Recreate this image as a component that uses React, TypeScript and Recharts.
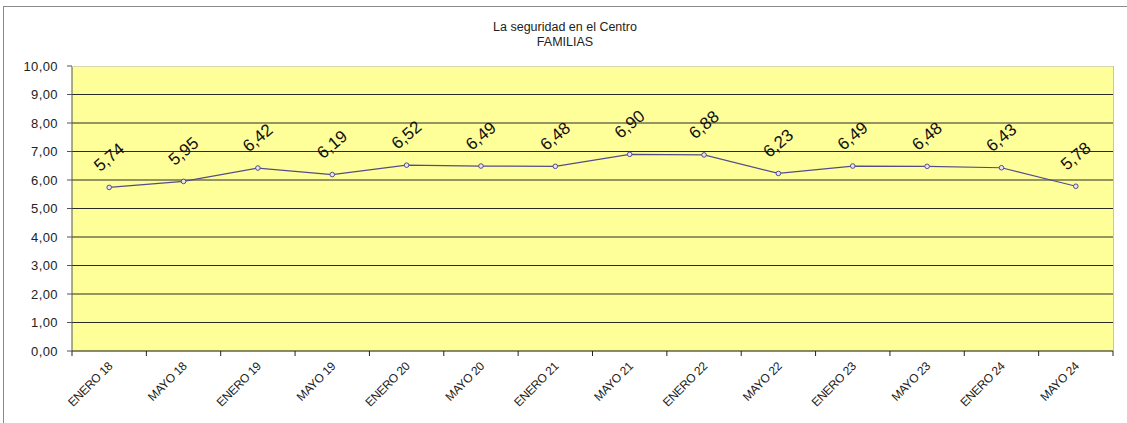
import React from 'react'
import { LineChart, Line, XAxis, YAxis, CartesianGrid, LabelList } from 'recharts'

const periods = [
  'ENERO 18', 'MAYO 18', 'ENERO 19', 'MAYO 19', 'ENERO 20', 'MAYO 20', 'ENERO 21',
  'MAYO 21', 'ENERO 22', 'MAYO 22', 'ENERO 23', 'MAYO 23', 'ENERO 24', 'MAYO 24',
];
const scores = [5.74, 5.95, 6.42, 6.19, 6.52, 6.49, 6.48, 6.9, 6.88, 6.23, 6.49, 6.48, 6.43, 5.78];
const yTicks = [0, 1, 2, 3, 4, 5, 6, 7, 8, 9, 10];
const gridValues = [1, 2, 3, 4, 5, 6, 7, 8, 9];

const data = periods.map((p, i) => ({ period: p, value: scores[i] }));

const W = 1127;
const H = 423;
const PLOT_LEFT = 72;
const PLOT_RIGHT = 1113;
const PLOT_TOP = 66;
const PLOT_BOTTOM = 351;
const BAND = (PLOT_RIGHT - PLOT_LEFT) / periods.length;
const fmt = (v: number) => v.toFixed(2).replace('.', ',');
const FONT = '"Liberation Sans", Arial, sans-serif';

const XTick = ({ x, y, payload, index }: any) => (
  <g>
    <line x1={x - BAND / 2} x2={x - BAND / 2} y1={y - 8} y2={y - 3} stroke="#222" />
    {index === periods.length - 1 && (
      <line x1={x + BAND / 2} x2={x + BAND / 2} y1={y - 8} y2={y - 3} stroke="#222" />
    )}
    <text
      x={x + 4}
      y={y + 8}
      textAnchor="end"
      transform={`rotate(-45, ${x + 4}, ${y + 8})`}
      fill="#222"
      style={{ fontSize: 12, fontFamily: FONT, letterSpacing: -0.3 }}
    >
      {payload.value}
    </text>
  </g>
);

const ValueLabel = ({ x, y, value }: any) => (
  <text
    x={x}
    y={y - 30}
    textAnchor="middle"
    dominantBaseline="central"
    transform={`rotate(-40, ${x}, ${y - 30})`}
    fill="#111"
    style={{ fontSize: 17, fontFamily: FONT }}
  >
    {fmt(value)}
  </text>
);

export default function App() {
  return (
    <div style={{ position: 'fixed', left: 0, top: 0, width: W, height: H, background: '#fff', overflow: 'hidden' }}>
      <div style={{ position: 'absolute', left: 3, top: 6, width: W, height: 1, background: '#8a8a8a' }} />
      <div style={{ position: 'absolute', left: 3, top: 6, width: 1, height: H, background: '#8a8a8a' }} />
      <div
        style={{
          position: 'absolute', left: 3, top: 20, width: W - 3, textAlign: 'center',
          fontFamily: FONT, fontSize: 12.5, lineHeight: '15px', color: '#222',
        }}
      >
        La seguridad en el Centro
        <br />
        FAMILIAS
      </div>
      <div style={{ position: 'absolute', left: 0, top: 0 }}>
        <LineChart
          width={W}
          height={H}
          data={data}
          margin={{ top: PLOT_TOP, right: W - PLOT_RIGHT, left: 0, bottom: 0 }}
        >
          <CartesianGrid
            vertical={false}
            stroke="#2a2a2a"
            fill="#FFFF99"
            fillOpacity={1}
            horizontalValues={gridValues}
          />
          <XAxis
            dataKey="period"
            scale="band"
            interval={0}
            height={H - PLOT_BOTTOM}
            axisLine={{ stroke: '#111' }}
            tickLine={false}
            tick={<XTick />}
          />
          <YAxis
            width={PLOT_LEFT}
            domain={[0, 10]}
            ticks={yTicks}
            interval={0}
            tickFormatter={fmt}
            axisLine={{ stroke: '#555' }}
            tickLine={{ stroke: '#555' }}
            tickSize={5}
            dx={-7}
            tick={{ fill: '#222', fontSize: 13, fontFamily: FONT, letterSpacing: 0.4 }}
          />
          <Line
            type="linear"
            dataKey="value"
            stroke="#544c8a"
            strokeWidth={1.2}
            dot={{ r: 2.3, fill: '#e8e4f4', stroke: '#544c8a', strokeWidth: 1 }}
            isAnimationActive={false}
          >
            <LabelList dataKey="value" content={<ValueLabel />} />
          </Line>
        </LineChart>
      </div>
      <div style={{ position: 'absolute', left: PLOT_LEFT, top: PLOT_TOP, width: PLOT_RIGHT - PLOT_LEFT, height: 1, background: '#d8d8b0' }} />
      <div style={{ position: 'absolute', left: PLOT_RIGHT, top: PLOT_TOP, width: 1, height: PLOT_BOTTOM - PLOT_TOP, background: '#c8c8a0' }} />
    </div>
  );
}
